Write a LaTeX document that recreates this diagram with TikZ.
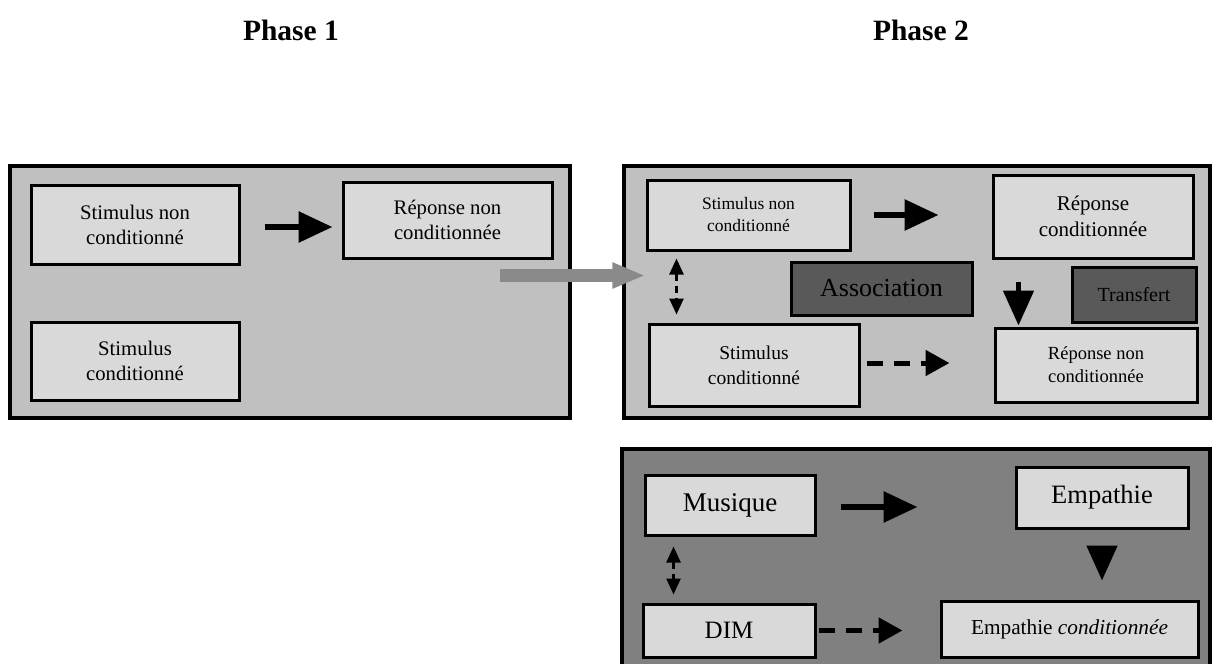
\documentclass[tikz,border=0pt]{standalone}
\usepackage{fontspec}
\setmainfont{Liberation Serif}
\usetikzlibrary{arrows.meta,calc}
\definecolor{panellight}{HTML}{C0C0C0}
\definecolor{paneldark}{HTML}{808080}
\definecolor{boxfill}{HTML}{D9D9D9}
\definecolor{boxdark}{HTML}{595959}
\definecolor{grayarrow}{HTML}{8A8A8A}

\begin{document}
\begin{tikzpicture}[x=1pt,y=-1pt,
  panel/.style={draw=black,line width=3.5pt,fill=#1,rectangle,inner sep=0pt},
  box/.style={draw=black,line width=3pt,fill=boxfill,rectangle,inner sep=0pt,align=center},
  darkbox/.style={box,fill=boxdark},
  wh/.style 2 args={minimum width=#1pt,minimum height=#2pt},
  title/.style={font=\fontsize{29.5}{35}\selectfont\bfseries},
  solidarrow/.style={line width=6pt,-{Triangle[length=34pt,width=30pt]}},
  grayarrow/.style={draw=grayarrow,line width=13pt,-{Triangle[length=33pt,width=24pt]}},
  downarrow/.style={line width=5pt,-{Triangle[length=35pt,width=30pt]}},
  dashedarrow/.style={line width=5pt,dash pattern=on 16pt off 11pt,-{Triangle[length=24pt,width=25pt]}},
  linkarrow/.style={line width=2.5pt,dash pattern=on 7pt off 5pt,{Triangle[length=16pt,width=14pt]}-{Triangle[length=16pt,width=14pt]}},
]
\useasboundingbox (0,0) rectangle (1219,664);

% headings
\node[title] (t1) at (291,30) {Phase 1};
\node[title] (t2) at (921,30) {Phase 2};

% ---------- phase 1 ----------
\node[panel=panellight,wh={560}{252}] (p1) at (290,292) {};
\node[box,wh={208}{79},font=\fontsize{20.7}{25}\selectfont] (sn1) at (135,224.5) {Stimulus non\\conditionné};
\node[box,wh={209}{76},font=\fontsize{20.7}{25}\selectfont] (rn1) at (447.5,220) {Réponse non\\conditionnée};
\node[box,wh={208}{78},font=\fontsize{20.7}{25}\selectfont] (sc1) at (135,361) {Stimulus\\conditionné};

\draw[solidarrow] ($(sn1.east)+(24,2.5)$) -- ($(rn1.west |- sn1.east)+(-9,2.5)$);

% ---------- phase 2 ----------
\node[panel=panellight,wh={586}{252}] (p2) at (917,292) {};
\node[box,wh={203}{70},font=\fontsize{17.5}{22}\selectfont] (sn2) at (748.5,215) {Stimulus non\\conditionné};
\node[box,wh={200}{83},font=\fontsize{21}{26}\selectfont] (rc2) at (1093,216.5) {Réponse\\conditionnée};
\node[darkbox,wh={181}{53},font=\fontsize{26}{30}\selectfont] (as2) at (881.5,288.5) {Association};
\node[darkbox,wh={124}{55},font=\fontsize{20}{24}\selectfont] (tr2) at (1134,294.5) {Transfert};
\node[box,wh={210}{82},font=\fontsize{19.5}{25}\selectfont] (sc2) at (754,365) {Stimulus\\conditionné};
\node[box,wh={202}{74},font=\fontsize{18.5}{23}\selectfont] (rn2) at (1096,365) {Réponse non\\conditionnée};

% transfer from phase 1 to phase 2
\draw[grayarrow] ($(p1.east)+(-72,-16.5)$) -- ($(p2.west |- p1.east)+(23,-16.5)$);

\draw[solidarrow] ($(sn2.east)+(22,0)$) -- ($(rc2.west |- sn2.east)+(-53,0)$);
\draw[linkarrow] ($(sn2.south west)+(31,7)$) -- ($(sn2.south west |- sc2.north)+(31,-8)$);
\draw[dashedarrow] ($(sc2.east)+(6,-2)$) -- ($(rn2.west |- sc2.east)+(-44,-2)$);
\draw[downarrow] ($(rn2.north west)+(25,-45)$) -- ($(rn2.north west)+(25,-1)$);

% ---------- application ----------
\node[panel=paneldark,wh={588}{224}] (p3) at (916,561) {};
\node[box,wh={170}{60},font=\fontsize{27}{32}\selectfont] (mu3) at (730,505) {Musique};
\node[box,wh={172}{61},font=\fontsize{26.5}{32}\selectfont] (em3) at (1102,497.5) {Empathie};
\node[box,wh={172}{53},font=\fontsize{25}{30}\selectfont] (dim3) at (729,630.5) {DIM};
\node[box,wh={257}{56},font=\fontsize{21.3}{26}\selectfont] (ec3) at (1069.5,629) {Empathie \textit{conditionnée}};

\draw[solidarrow] ($(mu3.east)+(24,2)$) -- ($(em3.west |- mu3.east)+(-97,2)$);
\draw[linkarrow] ($(mu3.south west)+(30,10)$) -- ($(mu3.south west |- dim3.north)+(30,-8)$);
\draw[dashedarrow] ($(dim3.east)+(2,0)$) -- ($(ec3.west |- dim3.east)+(-37,0)$);
\draw[downarrow] ($(em3.south)+(0,22)$) -- ($(em3.south |- ec3.north)+(0,-19)$);
\end{tikzpicture}
\end{document}
